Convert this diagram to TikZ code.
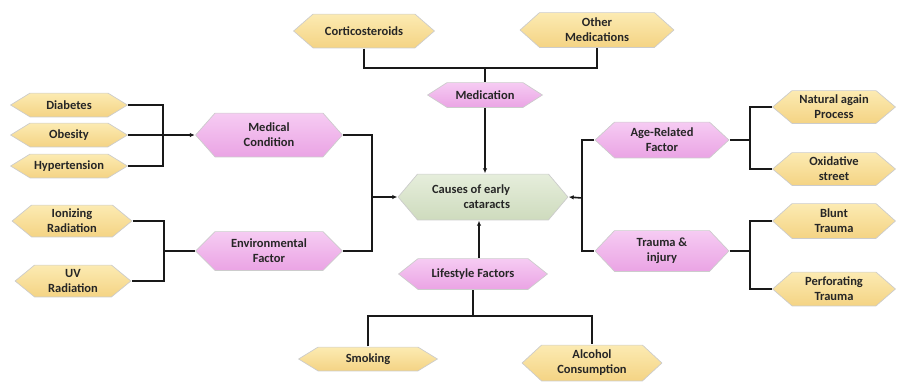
\documentclass[tikz,border=0pt]{standalone}
\usepackage{fontspec}
\setmainfont{Carlito}
\usetikzlibrary{arrows.meta,calc}
\definecolor{yelTop}{HTML}{FCEBB3}
\definecolor{yelBot}{HTML}{F4D383}
\definecolor{pinkTop}{HTML}{F6CCF3}
\definecolor{pinkBot}{HTML}{EAA3E4}
\definecolor{grnTop}{HTML}{E6EEDC}
\definecolor{grnBot}{HTML}{CEDBBD}
\definecolor{txt}{HTML}{262626}
\tikzset{
  hexpath/.style n args={2}{path picture={
    \shadedraw[top color=#1, bottom color=#2, draw=black!20, line width=0.7pt]
      ([xshift=0.6pt]path picture bounding box.west)
      -- ([xshift=20pt,yshift=-0.6pt]path picture bounding box.north west)
      -- ([xshift=-20pt,yshift=-0.6pt]path picture bounding box.north east)
      -- ([xshift=-0.6pt]path picture bounding box.east)
      -- ([xshift=-20pt,yshift=0.6pt]path picture bounding box.south east)
      -- ([xshift=20pt,yshift=0.6pt]path picture bounding box.south west)
      -- cycle;}},
  hexbox/.style={rectangle, inner sep=0pt, align=center, text=txt,
    font=\bfseries\fontsize{12.5}{15}\selectfont},
  ybox/.style={hexbox, hexpath={yelTop}{yelBot}},
  pbox/.style={hexbox, hexpath={pinkTop}{pinkBot}},
  gbox/.style={hexbox, hexpath={grnTop}{grnBot}},
  sz/.style 2 args={minimum width=#1, minimum height=#2},
  conn/.style={line width=1.6pt, black!90},
  arr/.style={conn, -{Latex[length=5pt,width=4.5pt]}}
}
\begin{document}
\begin{tikzpicture}[x=1pt,y=-1pt]
\useasboundingbox (0,0) rectangle (899,383);
% nodes
\node[ybox, sz={142pt}{35pt}] (cort) at (364,31) {Corticosteroids};
\node[ybox, sz={155pt}{36pt}] (othm) at (597,30) {Other\\Medications};
\node[pbox, sz={116pt}{26pt}] (med) at (485,95) {Medication};
\node[gbox, sz={171pt}{47pt}, align=right] (center) at (483,197) {Causes of early\hspace*{24pt}\\cataracts\hspace*{24pt}};
\node[pbox, sz={148pt}{45pt}] (medc) at (269,135) {Medical\\Condition};
\node[ybox, sz={118pt}{25pt}] (diab) at (69,105) {Diabetes};
\node[ybox, sz={118pt}{25pt}] (obes) at (69,135) {Obesity};
\node[ybox, sz={118pt}{25pt}] (hyper) at (69,166) {Hypertension};
\node[pbox, sz={148pt}{40pt}] (env) at (269,251) {Environmental\\Factor};
\node[ybox, sz={121pt}{33pt}] (ion) at (72,221) {Ionizing\\Radiation};
\node[ybox, sz={117pt}{33pt}] (uv) at (73,281) {UV\\Radiation};
\node[pbox, sz={135pt}{37pt}] (age) at (662,140) {Age-Related\\Factor};
\node[ybox, sz={124pt}{34pt}] (nat) at (834,107) {Natural again\\Process};
\node[ybox, sz={124pt}{34pt}] (oxi) at (834,169) {Oxidative\\street};
\node[pbox, sz={135pt}{42pt}] (trauma) at (662,251) {Trauma \&\\injury};
\node[ybox, sz={124pt}{36pt}] (blunt) at (834,221) {Blunt\\Trauma};
\node[ybox, sz={124pt}{35pt}] (perf) at (834,289) {Perforating\\Trauma};
\node[pbox, sz={150pt}{32pt}] (life) at (473,274) {Lifestyle Factors};
\node[ybox, sz={140pt}{25pt}] (smok) at (368,359) {Smoking};
\node[ybox, sz={141pt}{37pt}] (alco) at (592,363) {Alcohol\\Consumption};
% junction coordinates
\coordinate (mbus) at (485,68);
\coordinate (lb) at (163,135);
\coordinate (lv) at (372,197);
\coordinate (eb) at (164,251);
\coordinate (rv) at (582,198);
\coordinate (ab) at (750,140);
\coordinate (tb) at (750,251);
\coordinate (lb2) at (473,316);
% connectors
\draw[conn] (cort.south) |- (mbus) -| (othm.south);
\draw[conn] (mbus) -- (med.north);
\draw[arr] (med.south) -- (med.south |- center.north);
\draw[conn] (diab.east) -| (lb) |- (hyper.east);
\draw[arr] (obes.east) -- (medc.west);
\draw[arr] (medc.east) -| (lv) -- (center.west);
\draw[conn] (env.east) -| (lv);
\draw[conn] (ion.east) -| (eb) |- (uv.east);
\draw[conn] (eb) -- (env.west);
\draw[arr] (rv) -- (center.east);
\draw[conn] (age.west) -| (rv) |- (trauma.west);
\draw[conn] (nat.west) -| (ab) |- (oxi.west);
\draw[conn] (age.east) -- (ab);
\draw[conn] (blunt.west) -| (tb) |- (perf.west);
\draw[conn] (trauma.east) -- (tb);
\draw[arr] ([xshift=6pt]life.north) -- ([xshift=6pt]life.north |- center.south);
\draw[conn] (life.south) -- (lb2);
\draw[conn] (smok.north) |- (lb2) -| (alco.north);
\end{tikzpicture}
\end{document}
